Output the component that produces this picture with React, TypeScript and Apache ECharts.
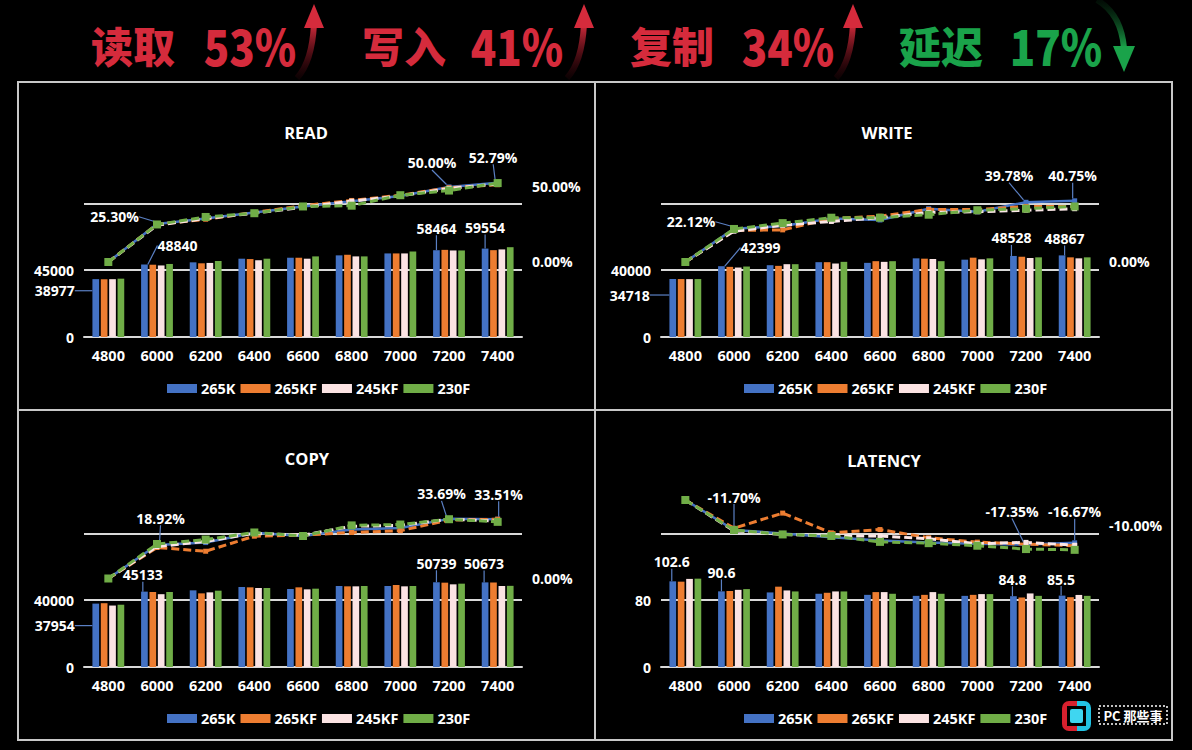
import React, { useEffect, useRef } from 'react';
import * as echarts from 'echarts';

// ---------- data ----------
const CATEGORIES = ['4800', '6000', '6200', '6400', '6600', '6800', '7000', '7200', '7400'];
const CPUS = ['265K', '265KF', '245KF', '230F'];

const READ_265K = [38977, 48840, 50300, 52750, 53400, 55000, 56300, 58464, 59554];
const READ_265KF = [38900, 48700, 49650, 52500, 53400, 55400, 56300, 58700, 58500];
const READ_245KF = [38950, 48200, 49900, 51650, 52750, 54300, 56300, 58300, 59000];
const READ_230F = [39300, 49200, 51200, 52750, 54300, 54300, 57600, 58300, 60500];
const READ_PCT_265K = [0, 25.3, 29.0, 33.0, 37.0, 40.5, 44.0, 50.0, 52.79];
const READ_PCT_265KF = [0, 25.0, 28.5, 33.0, 37.5, 41.0, 44.5, 49.5, 51.5];
const READ_PCT_245KF = [0, 24.5, 29.0, 32.5, 36.5, 40.5, 44.0, 49.0, 52.0];
const READ_PCT_230F = [0, 25.0, 30.0, 32.5, 37.0, 37.5, 44.5, 47.6, 52.6];

const WRITE_265K = [34718, 42399, 43000, 44800, 44400, 47100, 46300, 48528, 48867];
const WRITE_265KF = [34700, 42000, 42600, 44800, 45400, 46900, 47500, 48100, 47700];
const WRITE_245KF = [34650, 41600, 43600, 44000, 45000, 46700, 46500, 47300, 47100];
const WRITE_230F = [34700, 42200, 43600, 45000, 45400, 45400, 47100, 47700, 47700];
const WRITE_PCT_265K = [0, 22.12, 24.0, 29.0, 28.0, 35.5, 33.5, 39.78, 40.75];
const WRITE_PCT_265KF = [0, 21.0, 21.4, 29.0, 30.5, 35.0, 35.0, 37.0, 37.0];
const WRITE_PCT_245KF = [0, 20.5, 24.5, 27.0, 29.5, 33.0, 33.5, 34.5, 35.5];
const WRITE_PCT_230F = [0, 22.0, 25.9, 29.5, 29.5, 31.5, 34.5, 35.5, 37.0];

const COPY_265K = [37954, 45133, 45900, 47900, 46700, 48500, 48500, 50739, 50673];
const COPY_265KF = [38200, 44900, 44100, 47700, 47700, 48300, 49100, 50500, 50600];
const COPY_245KF = [36800, 43600, 44700, 47300, 46500, 48300, 48300, 49500, 48500];
const COPY_230F = [37300, 44900, 45700, 47300, 46900, 48500, 48500, 49900, 48600];
const COPY_PCT_265K = [0, 18.92, 20.3, 25.8, 24.0, 27.7, 28.5, 33.69, 33.51];
const COPY_PCT_265KF = [0, 17.5, 15.4, 23.9, 24.5, 26.0, 27.0, 33.0, 33.5];
const COPY_PCT_245KF = [0, 18.0, 21.0, 25.5, 24.5, 29.5, 30.0, 33.5, 32.5];
const COPY_PCT_230F = [0, 19.5, 22.0, 26.0, 24.0, 30.0, 30.5, 33.5, 32.0];

const LAT_265K = [102.6, 90.6, 89.3, 87.7, 86.4, 85.2, 85.2, 84.8, 85.5];
const LAT_265KF = [102.2, 91.0, 96.2, 88.9, 89.7, 86.4, 86.4, 83.2, 83.6];
const LAT_245KF = [105.5, 92.4, 91.7, 90.5, 89.7, 89.7, 87.3, 88.1, 86.3];
const LAT_230F = [105.8, 93.3, 90.5, 90.5, 87.7, 87.7, 87.3, 85.2, 85.2];
const LAT_PCT_265K = [0, -11.7, -13.0, -14.5, -15.8, -16.5, -17.0, -17.35, -16.67];
const LAT_PCT_265KF = [0, -11.0, -5.1, -12.8, -11.5, -14.7, -16.4, -17.2, -17.8];
const LAT_PCT_245KF = [0, -12.0, -13.4, -14.0, -14.0, -15.1, -17.0, -16.5, -17.6];
const LAT_PCT_230F = [0, -11.7, -13.4, -14.0, -16.3, -16.8, -17.8, -19.1, -19.4];

const HEADER_LABELS = ['读取', '写入', '复制', '延迟'];
const HEADER_VALUES = ['53%', '41%', '34%', '17%'];

// ---------- style / layout ----------
const FONT = "'Open Sans', 'Noto Sans', sans-serif";
const CJK = "'Noto Sans CJK SC', sans-serif";
const BAR_COLORS = ['#4472C4', '#ED7D31', '#FBE3E3', '#70AD47'];
const LINE_COLORS = ['#4472C4', '#ED7D31', '#FBE6E6', '#70AD47'];
const GRID_COLOR = '#d9d9d9';
const LEADER = '#5b80c4';
const RED = '#D52B3C';
const GREEN = '#1AA34A';

type Off = Record<number, [number, number]>;

interface Panel {
  title: string;
  bars: number[][];
  lines: number[][];
  left: number;
  top: number;
  interval: number;
  rMin: number;
  rMax: number;
  rInterval: number;
  rShow: number[];
  titleX: number;
  titleY: number;
  legendLeft: number;
  legendTop: number;
  barOff: Off;
  lineOff: Off;
}

const PANELS: Panel[] = [
  {
    title: 'READ',
    bars: [READ_265K, READ_265KF, READ_245KF, READ_230F],
    lines: [READ_PCT_265K, READ_PCT_265KF, READ_PCT_245KF, READ_PCT_230F],
    left: 84, top: 170, interval: 45000, rMin: -50, rMax: 61.3, rInterval: 50, rShow: [0, 50],
    titleX: 306, titleY: 132, legendLeft: 167, legendTop: 381,
    barOff: { 0: [-41, 11.6], 1: [33, -19], 7: [0, -22], 8: [0, -21] },
    lineOff: { 1: [-42.5, -7.3], 7: [-17, -24], 8: [-4.5, -25.5] },
  },
  {
    title: 'WRITE',
    bars: [WRITE_265K, WRITE_265KF, WRITE_245KF, WRITE_230F],
    lines: [WRITE_PCT_265K, WRITE_PCT_265KF, WRITE_PCT_245KF, WRITE_PCT_230F],
    left: 661, top: 170, interval: 40000, rMin: -50, rMax: 61.3, rInterval: 50, rShow: [0],
    titleX: 887, titleY: 132, legendLeft: 744, legendTop: 381,
    barOff: { 0: [-43, 16], 1: [39, -18.5], 7: [-2, -18], 8: [2.5, -17] },
    lineOff: { 1: [-43, -7], 7: [-17, -26.6], 8: [-2, -25] },
  },
  {
    title: 'COPY',
    bars: [COPY_265K, COPY_265KF, COPY_245KF, COPY_230F],
    lines: [COPY_PCT_265K, COPY_PCT_265KF, COPY_PCT_245KF, COPY_PCT_230F],
    left: 84, top: 500, interval: 40000, rMin: -50, rMax: 44.35, rInterval: 50, rShow: [0],
    titleX: 307, titleY: 458, legendLeft: 167, legendTop: 711,
    barOff: { 0: [-41, 22], 1: [-1.6, -17], 7: [0, -19], 8: [-1, -19] },
    lineOff: { 1: [3.5, -26.7], 7: [-7.5, -25], 8: [1, -25] },
  },
  {
    title: 'LATENCY',
    bars: [LAT_265K, LAT_265KF, LAT_245KF, LAT_230F],
    lines: [LAT_PCT_265K, LAT_PCT_265KF, LAT_PCT_245KF, LAT_PCT_230F],
    left: 661, top: 500, interval: 80, rMin: -65, rMax: 0, rInterval: 5, rShow: [-10],
    titleX: 884, titleY: 460, legendLeft: 744, legendTop: 711,
    barOff: { 0: [-1, -19.6], 1: [0, -19], 7: [-1, -17], 8: [-1, -16.6] },
    lineOff: { 1: [0, -33], 7: [-14, -33], 8: [0, -31] },
  },
];

const GRID_W = 438;
const GRID_H = 167;

const labelText = { color: '#fff', fontSize: 14, fontWeight: 'bold' as const, fontFamily: FONT };

function buildOption(): any {
  const grid: any[] = [];
  const xAxis: any[] = [];
  const yAxis: any[] = [];
  const legend: any[] = [];
  const series: any[] = [];
  const graphic: any[] = [];

  PANELS.forEach((p, i) => {
    grid.push({ left: p.left, top: p.top, width: GRID_W, height: GRID_H, containLabel: false });
    xAxis.push({
      type: 'category', gridIndex: i, data: CATEGORIES,
      axisLine: { lineStyle: { color: GRID_COLOR, width: 2 } },
      axisTick: { show: false },
      axisLabel: { ...labelText, fontSize: 14.5, margin: 11 },
    });
    const I = p.interval;
    yAxis.push({
      type: 'value', gridIndex: i, min: 0, max: 2.5 * I, interval: I,
      axisLine: { show: false }, axisTick: { show: false },
      splitLine: { show: true, showMinLine: false, showMaxLine: false, lineStyle: { color: GRID_COLOR, width: 2 } },
      axisLabel: {
        ...labelText, margin: 10,
        formatter: (v: number) => (v === 0 || v === I ? String(v) : ''),
      },
    });
    yAxis.push({
      type: 'value', gridIndex: i, position: 'right', min: p.rMin, max: p.rMax, interval: p.rInterval,
      axisLine: { show: false }, axisTick: { show: false }, splitLine: { show: false },
      axisLabel: {
        ...labelText, margin: 10,
        formatter: (v: number) => (p.rShow.some((t) => Math.abs(t - v) < 1e-6) ? v.toFixed(2) + '%' : ''),
      },
    });
    legend.push({
      data: CPUS, left: p.legendLeft, top: p.legendTop, orient: 'horizontal',
      icon: 'rect', itemWidth: 30, itemHeight: 9, itemGap: 5, padding: 0,
      selectedMode: false, textStyle: { ...labelText, fontSize: 14.5, padding: [0, 0, 0, -1] },
    });

    p.bars.forEach((vals, k) => {
      const off: Off = k === 0 ? p.barOff : {};
      series.push({
        type: 'bar', name: CPUS[k], xAxisIndex: i, yAxisIndex: 2 * i,
        barWidth: 6.7, barGap: '25%',
        itemStyle: { color: BAR_COLORS[k] },
        data: vals.map((v, j) => (off[j] ? { value: v, label: { show: true }, labelLine: { show: true } } : v)),
        label: { show: false, position: 'top', ...labelText, formatter: (pr: any) => String(pr.value) },
        labelLine: { show: false, lineStyle: { color: LEADER, width: 1.2 } },
        labelLayout: (pr: any) => {
          const o = off[pr.dataIndex];
          if (!o || !pr.rect) return {};
          const r = pr.rect;
          return { x: r.x + r.width / 2 + o[0], y: r.y + o[1], align: 'center', verticalAlign: 'middle' };
        },
      });
    });

    p.lines.forEach((vals, k) => {
      const off: Off = k === 0 ? p.lineOff : {};
      series.push({
        type: 'line', name: CPUS[k] + ' %', xAxisIndex: i, yAxisIndex: 2 * i + 1,
        symbol: 'rect', symbolSize: k === 3 ? 8 : 5, clip: false, z: 3,
        lineStyle: { color: LINE_COLORS[k], width: k === 0 ? 2.5 : 3, type: k === 0 ? 'solid' : [8, 4] },
        itemStyle: { color: LINE_COLORS[k] },
        data: vals.map((v, j) => (off[j] ? { value: v, label: { show: true }, labelLine: { show: true } } : v)),
        label: { show: false, position: 'top', ...labelText, formatter: (pr: any) => Number(pr.value).toFixed(2) + '%' },
        labelLine: { show: false, lineStyle: { color: LEADER, width: 1.2 } },
        labelLayout: (pr: any) => {
          const o = off[pr.dataIndex];
          if (!o || !pr.rect) return {};
          const r = pr.rect;
          return { x: r.x + r.width / 2 + o[0], y: r.y + r.height / 2 + o[1], align: 'center', verticalAlign: 'middle' };
        },
      });
    });

    graphic.push({
      type: 'text', x: p.titleX, y: p.titleY,
      style: { text: p.title, fill: '#fff', fontSize: 16.5, fontWeight: 'bold', fontFamily: FONT, align: 'center', verticalAlign: 'middle' },
    });
  });

  // frame
  graphic.push({ type: 'rect', shape: { x: 18, y: 82, width: 1154, height: 658 }, style: { fill: 'none', stroke: '#c8c8c8', lineWidth: 2 } });
  graphic.push({ type: 'line', shape: { x1: 595, y1: 82, x2: 595, y2: 740 }, style: { stroke: '#c8c8c8', lineWidth: 2 } });
  graphic.push({ type: 'line', shape: { x1: 18, y1: 410, x2: 1172, y2: 410 }, style: { stroke: '#c8c8c8', lineWidth: 2 } });

  // header
  const labelX = [133, 404, 672, 941];
  const valueX = [250, 517, 788, 1056];
  const arrowX = [314, 584, 853];
  HEADER_LABELS.forEach((t, k) => {
    const col = k === 3 ? GREEN : RED;
    graphic.push({
      type: 'text', x: labelX[k], y: 44,
      style: { text: t, fill: col, fontSize: 42, fontWeight: 900, fontFamily: CJK, align: 'center', verticalAlign: 'middle' },
    });
    graphic.push({
      type: 'text', x: valueX[k], y: 44, scaleX: 1.0, scaleY: 1.18,
      style: { text: HEADER_VALUES[k], fill: col, fontSize: 42, fontWeight: 900, fontFamily: CJK, align: 'center', verticalAlign: 'middle' },
    });
  });
  arrowX.forEach((ax) => {
    graphic.push({
      type: 'bezierCurve',
      shape: { x1: ax - 17, y1: 78, cpx1: ax - 2, cpy1: 62, x2: ax, y2: 24 },
      style: {
        fill: 'none', lineWidth: 6,
        stroke: new echarts.graphic.LinearGradient(0, 0, 0, 1, [
          { offset: 0, color: RED },
          { offset: 1, color: 'rgba(90,10,20,0.15)' },
        ]),
      },
    });
    graphic.push({ type: 'polygon', shape: { points: [[ax, 4], [ax - 10, 28], [ax + 10, 28]] }, style: { fill: RED } });
  });
  graphic.push({
    type: 'bezierCurve',
    shape: { x1: 1097, y1: 0, cpx1: 1121, cpy1: 14, x2: 1124, y2: 48 },
    style: {
      fill: 'none', lineWidth: 6,
      stroke: new echarts.graphic.LinearGradient(0, 0, 0, 1, [
        { offset: 0, color: 'rgba(10,60,25,0.2)' },
        { offset: 1, color: GREEN },
      ]),
    },
  });
  graphic.push({ type: 'polygon', shape: { points: [[1124, 72], [1113, 46], [1135, 46]] }, style: { fill: GREEN } });

  // logo
  graphic.push({ type: 'rect', shape: { x: 1062, y: 701, width: 15, height: 30, r: [7, 0, 0, 7] }, style: { fill: '#D8202E' } });
  graphic.push({ type: 'rect', shape: { x: 1077, y: 701, width: 14, height: 30, r: [0, 7, 7, 0] }, style: { fill: '#22C3E4' } });
  graphic.push({ type: 'rect', shape: { x: 1067, y: 706, width: 19, height: 20 }, style: { fill: '#000' } });
  graphic.push({ type: 'rect', shape: { x: 1070, y: 709, width: 13, height: 14, r: 2 }, style: { fill: '#3FD6F0' } });
  graphic.push({ type: 'rect', shape: { x: 1099, y: 706, width: 68, height: 18 }, style: { fill: 'none', stroke: '#fff', lineWidth: 1.5, lineDash: [2, 2] } });
  graphic.push({
    type: 'text', x: 1133, y: 715,
    style: { text: 'PC 那些事', fill: '#fff', fontSize: 13, fontWeight: 'bold', fontFamily: CJK, align: 'center', verticalAlign: 'middle' },
  });

  return {
    animation: false,
    backgroundColor: '#000',
    grid, xAxis, yAxis, legend, series, graphic,
  };
}

export default function App() {
  const ref = useRef<HTMLDivElement>(null);
  useEffect(() => {
    document.body.style.margin = '0';
    document.body.style.background = '#000';
    if (!ref.current) return;
    const chart = echarts.init(ref.current, undefined, { renderer: 'svg' });
    chart.setOption(buildOption());
    return () => chart.dispose();
  }, []);
  return <div ref={ref} style={{ width: 1192, height: 750, background: '#000' }} />;
}
